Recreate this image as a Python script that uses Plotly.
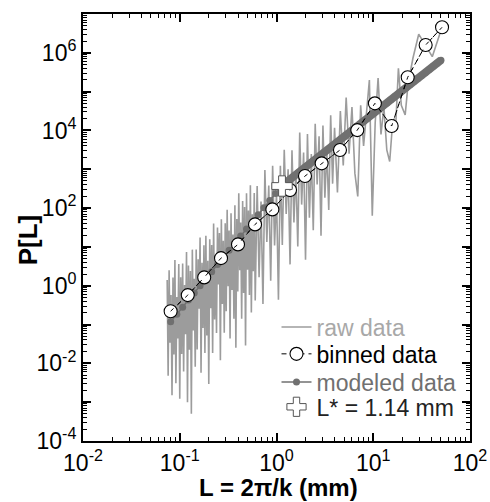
import numpy as np
import plotly.graph_objects as go

# ---------------- data ----------------
# raw periodogram, stored as log10 values
raw_log10_L = [
    -1.13, -1.12, -1.11, -1.10, -1.09, -1.08, -1.07, -1.06, -1.05, -1.04,
    -1.03, -1.02, -1.01, -1.00, -0.99, -0.98, -0.97, -0.96, -0.95, -0.94,
    -0.93, -0.92, -0.91, -0.90, -0.89, -0.88, -0.87, -0.86, -0.85, -0.84,
    -0.83, -0.82, -0.81, -0.80, -0.79, -0.78, -0.77, -0.76, -0.75, -0.74,
    -0.73, -0.72, -0.71, -0.70, -0.69, -0.68, -0.67, -0.66, -0.65, -0.64,
    -0.63, -0.62, -0.61, -0.60, -0.59, -0.58, -0.57, -0.56, -0.55, -0.54,
    -0.53, -0.52, -0.51, -0.50, -0.49, -0.48, -0.47, -0.46, -0.45, -0.44,
    -0.43, -0.42, -0.41, -0.40, -0.39, -0.38, -0.37, -0.36, -0.35, -0.34,
    -0.33, -0.32, -0.31, -0.30, -0.29, -0.28, -0.27, -0.26, -0.25, -0.24,
    -0.23, -0.22,
    -0.20, -0.18, -0.16, -0.14, -0.12, -0.10, -0.08, -0.06, -0.04, -0.02,
    0.00, 0.02, 0.04, 0.06, 0.08, 0.10, 0.12, 0.14, 0.16, 0.18,
    0.20, 0.22, 0.24, 0.26, 0.28, 0.30, 0.32, 0.34, 0.36, 0.38,
    0.40, 0.42, 0.44, 0.46, 0.48, 0.50, 0.52, 0.54, 0.56, 0.58, 0.60,
    0.63, 0.66, 0.69, 0.72, 0.75, 0.78, 0.81, 0.84, 0.87, 0.90,
    0.93, 0.96, 0.99, 1.02, 1.05, 1.08, 1.11, 1.14, 1.17, 1.20,
    1.23, 1.26, 1.29, 1.33, 1.36, 1.41, 1.47, 1.61, 1.71,
]
raw_log10_P = [
    0.15, -2.32, 0.40, -1.47, -0.24, -2.82, 0.21, -1.77, 0.66, -2.51,
    -0.29, -1.36, 0.56, -2.91, 0.22, -1.76, 0.57, -2.21, 0.02, -1.25,
    0.87, -3.00, 0.52, -1.65, 0.38, -3.30, 0.93, -1.15, 0.18, -2.09,
    0.93, -1.64, 0.68, -0.59, 1.24, -2.24, 0.59, -1.09, 1.04, -1.73,
    1.29, -1.28, 0.64, -2.53, 1.20, -0.58, 1.05, -1.73, 1.60, -0.87,
    0.75, -1.22, 1.50, 0.03, 1.36, -1.92, 1.71, -0.47, 1.16, -1.21,
    1.61, -0.66, 1.96, -0.01, 1.42, -1.36, 1.87, -0.11, 1.32, -0.85,
    2.07, -1.60, 1.72, -0.15, 2.38, 0.40, 1.63, -0.85, 2.18, -0.19,
    2.03, -1.54, 2.38, 0.41, 1.94, -0.24, 2.59, -0.69, 1.84, 0.37,
    2.39, -0.38,
    2.57, 0.22, 2.17, -0.47, 2.98, 1.13, 2.58, 0.13, 3.09, 1.04,
    2.39, -0.36, 3.09, 1.05, 3.50, 1.85, 3.00, 0.55, 3.49, 1.63,
    2.97, 1.01, 3.95, 2.09, 3.43, 0.67, 3.91, 1.75, 3.39, 1.43,
    4.17, 2.61, 3.85, 1.29, 4.13, 2.27, 3.51, 1.95, 4.39, 2.63, 4.07,
    2.40, 4.50, 3.10, 4.85, 3.40, 4.60, 2.90, 2.30, 4.65, 3.60,
    4.50, 5.30, 1.80, 4.20, 5.35, 3.90, 4.60, 3.50, 3.20, 4.20,
    4.00, 5.60, 4.65, 4.40, 5.20, 5.86, 6.48, 5.90, 6.65,
]

# binned data
binned_L = [0.0805, 0.121, 0.179, 0.267, 0.400, 0.600, 0.906, 1.38, 1.97,
            2.93, 4.53, 6.84, 10.4, 15.5, 22.7, 34.8, 51.4]
binned_P = [0.221, 0.573, 1.64, 5.14, 11.6, 38.0, 92.5, 291, 668,
            1420, 3130, 10200, 49900, 13000, 234000, 1.59e6, 4.54e6]

# modeled data, stored as log10 values
model_log10_L = [
    -1.094, -1.03, -0.97, -0.91, -0.85, -0.79, -0.73, -0.67, -0.61, -0.55,
    -0.49, -0.43, -0.37, -0.31, -0.25, -0.19, -0.13, -0.07, -0.01, 0.057,
    0.10, 0.14, 0.18, 0.22, 0.26, 0.30, 0.34, 0.38, 0.42, 0.46,
    0.50, 0.54, 0.58, 0.62, 0.66, 0.70, 0.74, 0.78, 0.82, 0.86,
    0.90, 0.94, 0.98, 1.02, 1.06, 1.10, 1.14, 1.18, 1.22, 1.26,
    1.30, 1.34, 1.38, 1.42, 1.46, 1.50, 1.54, 1.58, 1.62, 1.66, 1.70,
]
model_log10_P = [
    -0.930, -0.735, -0.552, -0.369, -0.186, -0.003, 0.180, 0.363, 0.546, 0.729,
    0.912, 1.095, 1.278, 1.461, 1.644, 1.827, 2.010, 2.193, 2.376, 2.581,
    2.666, 2.744, 2.823, 2.901, 2.980, 3.059, 3.137, 3.216, 3.294, 3.373,
    3.452, 3.530, 3.609, 3.687, 3.766, 3.845, 3.923, 4.002, 4.080, 4.159,
    4.238, 4.316, 4.395, 4.473, 4.552, 4.631, 4.709, 4.788, 4.866, 4.945,
    5.024, 5.102, 5.181, 5.259, 5.338, 5.417, 5.495, 5.574, 5.652, 5.731, 5.810,
]

# crossover point
Lstar_L = [1.14]
Lstar_P = [370]

# axis tick labels
x_tick_exp = [-2, -1, 0, 1, 2]
y_tick_exp = [-4, -3, -2, -1, 0, 1, 2, 3, 4, 5, 6, 7]
y_label_exp = [-4, -2, 0, 2, 4, 6]

# ---------------- figure ----------------
FONT = "Liberation Sans, Arial, sans-serif"

raw_L = np.power(10.0, raw_log10_L)
raw_P = np.power(10.0, raw_log10_P)
model_L = np.power(10.0, model_log10_L)
model_P = np.power(10.0, model_log10_P)
above_star = model_L >= Lstar_L[0]

fig = go.Figure()

fig.add_trace(go.Scatter(
    x=raw_L, y=raw_P, mode="lines", name="raw data",
    line=dict(color="#9c9c9c", width=1.6), legend="legend"))

fig.add_trace(go.Scatter(
    x=model_L, y=model_P, mode="lines+markers", name="modeled data",
    line=dict(color="#707070", width=1.5),
    marker=dict(color="#707070", size=7), legend="legend3"))

fig.add_trace(go.Scatter(
    x=model_L[above_star], y=model_P[above_star], mode="lines",
    showlegend=False, line=dict(color="#707070", width=8)))

fig.add_trace(go.Scatter(
    x=binned_L, y=binned_P, mode="lines+markers", name="binned data",
    line=dict(color="black", width=1.0, dash="5px,4px"),
    marker=dict(symbol="circle", size=13, color="white",
                line=dict(color="black", width=1.1)), legend="legend2"))

fig.add_trace(go.Scatter(
    x=binned_L, y=binned_P, mode="lines", showlegend=False,
    line=dict(color="black", width=1.0, dash="4px,6px")))

fig.add_trace(go.Scatter(
    x=Lstar_L, y=Lstar_P, mode="markers", name="L* = 1.14 mm",
    marker=dict(symbol="cross", size=17, color="white",
                line=dict(color="#555555", width=1)), legend="legend4"))


def minor_vals(e0, e1):
    return [k * 10.0 ** e for e in range(e0, e1) for k in range(2, 10)]


def sup(e):
    return "10<sup>%d</sup>" % e


axis_common = dict(
    type="log", showline=True, linecolor="black", linewidth=2,
    mirror="allticks", ticks="inside", ticklen=8, tickwidth=1.5,
    tickcolor="black", showgrid=False, zeroline=False, automargin=False,
    tickfont=dict(family=FONT, size=23, color="black"),
)

fig.update_xaxes(
    range=[-2, 2],
    tickmode="array",
    tickvals=[10.0 ** e for e in x_tick_exp],
    ticktext=[sup(e) for e in x_tick_exp],
    minor=dict(tickmode="array", tickvals=minor_vals(-2, 2), ticks="inside",
               ticklen=4, tickwidth=1, tickcolor="black", showgrid=False),
    **axis_common)

fig.update_yaxes(
    range=[-4, 7],
    tickmode="array",
    tickvals=[10.0 ** e for e in y_tick_exp],
    ticktext=[sup(e) if e in y_label_exp else "" for e in y_tick_exp],
    minor=dict(tickmode="array", tickvals=minor_vals(-4, 7), ticks="inside",
               ticklen=4, tickwidth=1, tickcolor="black", showgrid=False),
    **axis_common)

leg_common = dict(xanchor="left", yanchor="middle", bgcolor="rgba(0,0,0,0)",
                  borderwidth=0, x=0.50)
fig.update_layout(
    width=490, height=502,
    margin=dict(l=83, r=20, t=14, b=61, autoexpand=False),
    paper_bgcolor="white", plot_bgcolor="white",
    legend=dict(y=0.267, font=dict(family=FONT, size=23, color="#a8a8a8"), **leg_common),
    legend2=dict(y=0.204, font=dict(family=FONT, size=23, color="black"), **leg_common),
    legend3=dict(y=0.138, font=dict(family=FONT, size=23, color="#707070"), **leg_common),
    legend4=dict(y=0.080, font=dict(family=FONT, size=23, color="#222222"), **leg_common),
    annotations=[
        dict(text="<b>L = 2π/k (mm)</b>", xref="paper", yref="paper",
             x=0.506, y=-0.110, xanchor="center", yanchor="middle",
             showarrow=False, font=dict(family=FONT, size=24, color="black")),
        dict(text="<b>P[L]</b>", xref="paper", yref="paper",
             x=-0.142, y=0.47, xanchor="center", yanchor="middle",
             textangle=-90, showarrow=False,
             font=dict(family=FONT, size=26, color="black")),
    ],
)

fig.write_html("out.html",
               config={"displayModeBar": False},
               post_script="document.body.style.margin='0px';"
                           "document.body.style.overflow='hidden';")
